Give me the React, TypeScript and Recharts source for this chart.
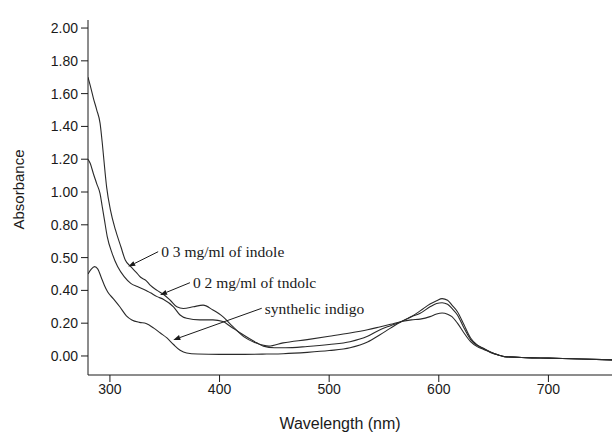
import React from 'react';
import { LineChart, Line, XAxis, YAxis, ReferenceLine } from 'recharts';

// wavelength (nm) / absorbance
const wl03 = [280, 282, 285, 288, 291, 293, 294.5, 297, 300.5, 305, 310, 314, 319, 324, 328, 333, 337, 343, 349, 355, 361, 367, 376, 385, 394, 403, 412, 422, 434, 445, 458, 480, 500, 519, 535, 546, 556, 566, 575, 583, 592, 598, 603, 608, 612, 617, 623, 629, 635, 641, 647, 655, 660, 680, 700, 730, 758];
const abs03 = [1.7, 1.65, 1.57, 1.5, 1.42, 1.3, 1.195, 1.03, 0.89, 0.77, 0.666, 0.585, 0.545, 0.51, 0.48, 0.46, 0.43, 0.4, 0.375, 0.34, 0.3, 0.29, 0.3, 0.31, 0.28, 0.24, 0.18, 0.118, 0.077, 0.06, 0.08, 0.1, 0.12, 0.14, 0.16, 0.177, 0.193, 0.21, 0.22, 0.225, 0.24, 0.256, 0.262, 0.255, 0.24, 0.2, 0.14, 0.087, 0.057, 0.04, 0.022, 0.005, -0.004, -0.01, -0.013, -0.018, -0.024];

const wl02 = [280, 282, 285, 288, 291, 293, 295, 297.5, 302, 307, 313, 319, 325, 333, 337, 343, 349, 358, 364, 370, 382, 394, 403, 410, 419, 434, 440, 450, 460, 480, 500, 519, 535, 546, 556, 566, 575, 583, 592, 598, 603, 608, 612, 617, 623, 629, 635, 641, 647, 655, 660, 680, 700, 730, 758];
const abs02 = [1.2, 1.175, 1.11, 1.05, 0.99, 0.91, 0.83, 0.73, 0.626, 0.545, 0.484, 0.443, 0.423, 0.4, 0.385, 0.362, 0.345, 0.3, 0.25, 0.23, 0.22, 0.22, 0.21, 0.18, 0.14, 0.08, 0.06, 0.05, 0.05, 0.058, 0.07, 0.087, 0.12, 0.159, 0.185, 0.21, 0.24, 0.26, 0.3, 0.32, 0.325, 0.315, 0.29, 0.25, 0.17, 0.1, 0.065, 0.045, 0.025, 0.005, -0.004, -0.01, -0.013, -0.018, -0.024];

const wlSyn = [280, 283, 286, 289, 292, 295, 298, 303, 309, 315, 320, 327, 333, 340, 346, 352, 358, 364, 370, 380, 400, 420, 443, 458, 480, 500, 519, 535, 546, 556, 566, 575, 583, 592, 598, 603, 608, 612, 617, 623, 629, 635, 641, 647, 655, 660, 680, 700, 730, 758];
const absSyn = [0.5, 0.53, 0.545, 0.53, 0.48, 0.43, 0.39, 0.35, 0.3, 0.245, 0.22, 0.205, 0.198, 0.17, 0.14, 0.11, 0.07, 0.035, 0.018, 0.012, 0.01, 0.01, 0.012, 0.014, 0.022, 0.033, 0.05, 0.085, 0.128, 0.17, 0.21, 0.24, 0.275, 0.317, 0.337, 0.35, 0.34, 0.31, 0.27, 0.19, 0.11, 0.067, 0.045, 0.025, 0.005, -0.004, -0.01, -0.013, -0.018, -0.024];

const xTicks = [300, 400, 500, 600, 700];
const yTicks = [0, 0.2, 0.4, 0.6, 0.8, 1.0, 1.2, 1.4, 1.6, 1.8, 2.0];
const yTickLabels = ['0.00', '0.20', '0.40', '0.50', '0.80', '1.00', '1.20', '1.40', '1.60', '1.80', '2.00'];

// annotation arrows: [text end point, arrow head point], data coords
const notes = [
  { text: '0 3 mg/ml of indole', from: { x: 344, y: 0.636 }, to: { x: 316.7, y: 0.545 } },
  { text: '0 2 mg/ml of tndolc', from: { x: 373, y: 0.447 }, to: { x: 345.7, y: 0.372 } },
  { text: 'synthelic indigo', from: { x: 438.5, y: 0.291 }, to: { x: 357.8, y: 0.098 } },
];

const zip = (w: number[], a: number[]) => w.map((x, i) => ({ w: x, a: a[i] }));
const s03 = zip(wl03, abs03);
const s02 = zip(wl02, abs02);
const sSyn = zip(wlSyn, absSyn);

const sans = '"Liberation Sans", Arial, sans-serif';
const serif = '"Liberation Serif", "Times New Roman", serif';
const ink = '#1a1a1a';

const arrowShape = (text: string) => (p: any) => {
  const { x1, y1, x2, y2 } = p;
  const dx = x2 - x1;
  const dy = y2 - y1;
  const len = Math.sqrt(dx * dx + dy * dy) || 1;
  const ux = dx / len;
  const uy = dy / len;
  const hl = 7;
  const hw = 2.6;
  const bx = x2 - ux * hl;
  const by = y2 - uy * hl;
  const pts = `${x2},${y2} ${bx - uy * hw},${by + ux * hw} ${bx + uy * hw},${by - ux * hw}`;
  return (
    <g>
      <line x1={x1} y1={y1} x2={bx} y2={by} stroke={ink} strokeWidth={1} />
      <polygon points={pts} fill={ink} />
      <text x={x1 + 3} y={y1} dy="0.35em" fontFamily={serif} fontSize={15.5} fill={ink}>
        {text}
      </text>
    </g>
  );
};

export default function App() {
  return (
    <div style={{ position: 'absolute', left: 0, top: 0, width: 612, height: 434, background: '#fff' }}>
      <LineChart width={612} height={434} margin={{ top: 20, right: 0, bottom: 19, left: 28 }}>
        <XAxis
          type="number"
          dataKey="w"
          domain={[280, 758]}
          ticks={xTicks}
          allowDataOverflow
          axisLine={{ stroke: ink }}
          tickLine={{ stroke: ink }}
          tickSize={7}
          tick={{ fill: ink, fontSize: 14, fontFamily: sans }}
          height={40}
          label={{ value: 'Wavelength (nm)', position: 'insideBottom', offset: -14, dx: -10, fill: ink, fontSize: 16, fontFamily: sans }}
        />
        <YAxis
          type="number"
          domain={[-0.116, 2.049]}
          ticks={yTicks}
          allowDataOverflow
          tickFormatter={(v: number) => yTickLabels[yTicks.indexOf(v)] ?? ''}
          axisLine={{ stroke: ink }}
          tickLine={{ stroke: ink }}
          tickSize={7}
          tickMargin={3}
          tick={{ fill: ink, fontSize: 14, fontFamily: sans }}
          width={60}
          label={{ value: 'Absorbance', angle: -90, position: 'insideLeft', offset: -9, dy: 32, fill: ink, fontSize: 15, fontFamily: sans }}
        />
        <Line data={s03} dataKey="a" type="monotone" stroke="#2a2a2a" strokeWidth={1.1} dot={false} isAnimationActive={false} />
        <Line data={s02} dataKey="a" type="monotone" stroke="#2a2a2a" strokeWidth={1.1} dot={false} isAnimationActive={false} />
        <Line data={sSyn} dataKey="a" type="monotone" stroke="#2a2a2a" strokeWidth={1.1} dot={false} isAnimationActive={false} />
        {notes.map((n) => (
          <ReferenceLine key={n.text} segment={[n.from, n.to]} shape={arrowShape(n.text)} />
        ))}
      </LineChart>
    </div>
  );
}
